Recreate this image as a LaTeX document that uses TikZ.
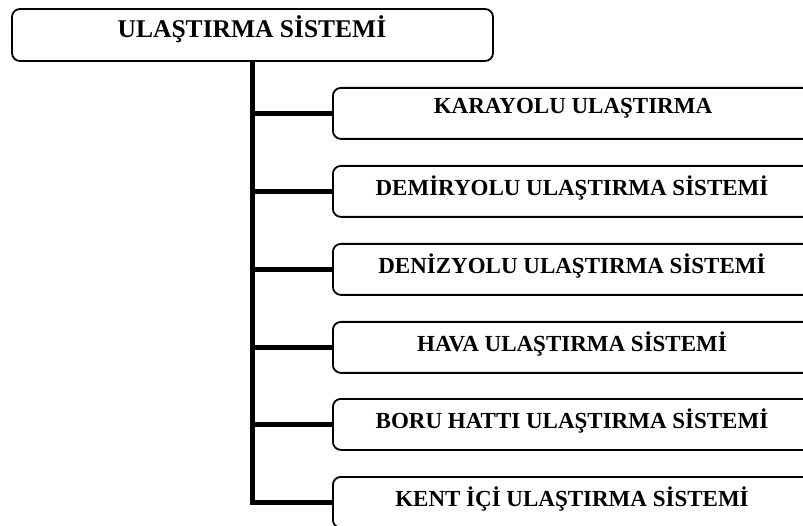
\documentclass[tikz,border=0pt]{standalone}
\usepackage{fontspec}
\setmainfont{Liberation Serif}
\begin{document}
\begin{tikzpicture}[x=1pt,y=-1pt,
  box/.style={draw, line width=1.8pt, rounded corners=8pt, inner sep=0pt},
  trunk/.style={line width=5pt},
  roottext/.style={inner sep=0pt, font=\bfseries\fontsize{25.5}{30}\selectfont},
  childtext/.style={inner sep=0pt, font=\bfseries\fontsize{23}{28}\selectfont}]
\useasboundingbox (0,0) rectangle (803,526);
\clip (0,0) rectangle (803,526);

% root box
\node[box, minimum width=481pt, minimum height=52pt] (root) at (252.5,35) {};
\node[roottext] (rt) at (252,29.5) {ULAŞTIRMA SİSTEMİ};

% child boxes (they run past the right edge)
\foreach \i/\top in {1/87,2/165,3/243,4/321,5/398,6/476}{
  \node[box, minimum width=480pt, minimum height=51pt, anchor=north west] (c\i) at (332,\top) {};
}
\node[childtext] (t1) at (573,108) {KARAYOLU ULAŞTIRMA};
\node[childtext] (t2) at (572,188) {DEMİRYOLU ULAŞTIRMA SİSTEMİ};
\node[childtext] (t3) at (572,266) {DENİZYOLU ULAŞTIRMA SİSTEMİ};
\node[childtext] (t4) at (572,344) {HAVA ULAŞTIRMA SİSTEMİ};
\node[childtext] (t5) at (572,421) {BORU HATTI ULAŞTIRMA SİSTEMİ};
\node[childtext] (t6) at (572,499) {KENT İÇİ ULAŞTIRMA SİSTEMİ};

% trunk and branches
\draw[trunk] (root.south) |- (c6.west);
\foreach \i in {1,...,5}{
  \draw[trunk] (root.south |- c\i.west) -- (c\i.west);
}
\end{tikzpicture}
\end{document}
